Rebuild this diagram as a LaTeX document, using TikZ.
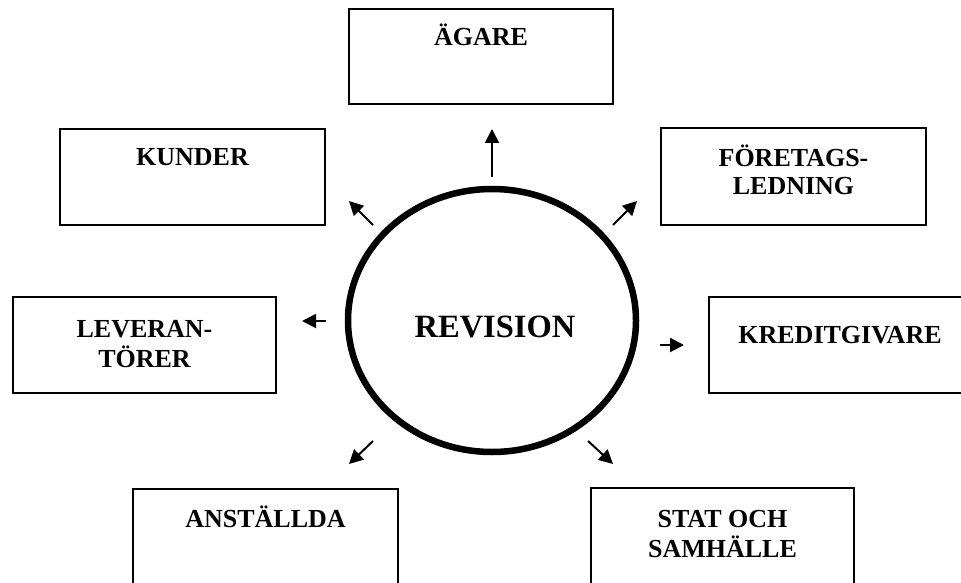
\documentclass[tikz,border=0pt]{standalone}
\usepackage{fontspec}
\setmainfont{Liberation Serif}
\usetikzlibrary{arrows.meta,shapes.geometric}
\begin{document}
\begin{tikzpicture}[x=1pt,y=-1pt,
  box/.style={draw, line width=2.3pt, minimum width=265pt, minimum height=96pt, inner sep=0pt},
  lbl/.style={font=\fontsize{26}{28.5}\selectfont\bfseries, anchor=base, inner sep=0pt},
  arr/.style={line width=2pt, -{Triangle[length=14pt,width=14pt]}}]
\useasboundingbox (0,0) rectangle (961,583);
\fill[white] (0,0) rectangle (961,583);

% boxes
\node[box, minimum width=264pt, minimum height=95pt] (agare) at (481,56.5) {};
\node[box] (kunder) at (192.5,177) {};
\node[box, minimum height=97pt] (ledning) at (793.5,176.5) {};
\node[box, minimum width=263pt] (lev) at (144.5,345) {};
\node[box] (kredit) at (841.5,345) {};
\node[box, minimum height=100pt] (anst) at (265.5,539) {};
\node[box, minimum width=263pt, minimum height=100pt] (stat) at (722.5,538) {};

% labels
\node[lbl] (agaret) at (481,46) {ÄGARE};
\node[lbl] (kundert) at (192.5,165) {KUNDER};
\node[lbl] (ledningt) at (793.5,166) {\begin{tabular}[t]{@{}c@{}}FÖRETAGS-\\LEDNING\end{tabular}};
\node[lbl] (levt) at (144.5,337) {\begin{tabular}[t]{@{}c@{}}LEVERAN-\\TÖRER\end{tabular}};
\node[lbl] (kreditt) at (840,343) {KREDITGIVARE};
\node[lbl] (anstt) at (265.5,527) {ANSTÄLLDA};
\node[lbl] (statt) at (722.5,527) {\begin{tabular}[t]{@{}c@{}}STAT OCH\\SAMHÄLLE\end{tabular}};

% circle
\node[draw, ellipse, line width=6.5pt, minimum width=288pt, minimum height=263pt, inner sep=0pt] (rev) at (492,320.5) {};
\node[font=\fontsize{32.5}{36}\selectfont\bfseries, anchor=base, inner sep=0pt] (revt) at (495,337) {REVISION};

% arrows
\coordinate (u0) at (492,177);  \coordinate (u1) at (492,129);
\coordinate (ul0) at (373,225); \coordinate (ul1) at (349,201);
\coordinate (ur0) at (613,225); \coordinate (ur1) at (637,201);
\coordinate (l0) at (326,321);  \coordinate (l1) at (302,321);
\coordinate (r0) at (660,345);  \coordinate (r1) at (684,345);
\coordinate (dl0) at (373,441); \coordinate (dl1) at (349,464);
\coordinate (dr0) at (588,441); \coordinate (dr1) at (613,464);
\draw[arr] (u0) -- (u1);
\draw[arr] (ul0) -- (ul1);
\draw[arr] (ur0) -- (ur1);
\draw[arr] (l0) -- (l1);
\draw[arr] (r0) -- (r1);
\draw[arr] (dl0) -- (dl1);
\draw[arr] (dr0) -- (dr1);
\end{tikzpicture}
\end{document}
